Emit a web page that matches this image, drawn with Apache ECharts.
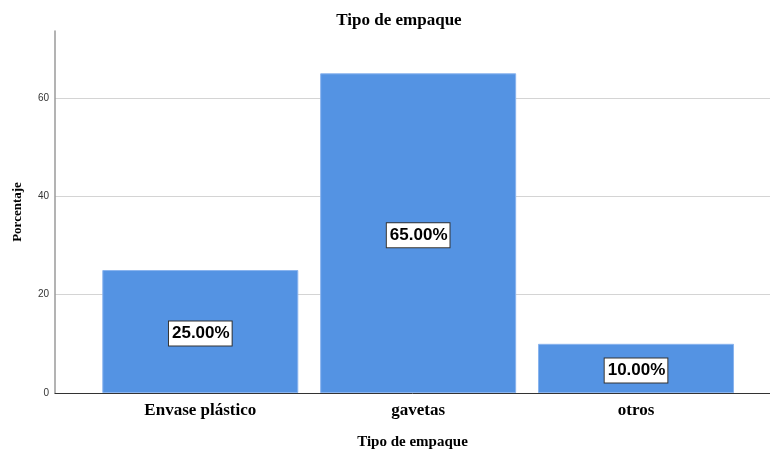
<!DOCTYPE html>
<html>
<head>
<meta charset="utf-8">
<script src="https://cdn.jsdelivr.net/npm/echarts@6/dist/echarts.min.js"></script>
<style>
  html, body { margin: 0; padding: 0; background: #fff; }
  #chart { width: 770px; height: 452px; }
</style>
</head>
<body>
<div id="chart"></div>
<script>
// Packaging type distribution (percent of respondents)
const categories = ['Envase plástico', 'gavetas', 'otros'];
const percentages = [25, 65, 10];
const yTicks = [0, 20, 40, 60];

const chart = echarts.init(document.getElementById('chart'));

// Bars sit at integer positions 0..n-1 on a numeric x scale so the
// plot can keep the wide left margin before the first bar.
const barData = percentages.map((v, i) => [i, v]);

chart.setOption({
  animation: false,
  title: {
    text: 'Tipo de empaque',
    left: 394,
    textAlign: 'center',
    top: 7,
    textStyle: { fontFamily: 'Liberation Serif', fontWeight: 'bold', fontSize: 17, color: '#000' }
  },
  grid: { left: 55, right: 0, top: 31, bottom: 59, containLabel: false, outerBoundsMode: 'none' },
  xAxis: {
    type: 'value',
    min: -0.667,
    max: 2.615,
    name: 'Tipo de empaque',
    nameLocation: 'middle',
    nameGap: 42,
    nameTextStyle: { fontFamily: 'Liberation Serif', fontWeight: 'bold', fontSize: 15, color: '#000' },
    axisLine: { show: true, onZero: false, lineStyle: { color: '#333', width: 1 } },
    axisTick: { show: false },
    splitLine: { show: false },
    axisLabel: {
      customValues: categories.map((c, i) => i),
      formatter: v => categories[Math.round(v)],
      margin: 9,
      fontFamily: 'Liberation Serif',
      fontWeight: 'bold',
      fontSize: 17,
      color: '#000'
    }
  },
  yAxis: {
    type: 'value',
    min: 0,
    max: 73.6,
    interval: 20,
    name: 'Porcentaje',
    nameLocation: 'middle',
    nameRotate: 90,
    nameGap: 31,
    nameTextStyle: { fontFamily: 'Liberation Serif', fontWeight: 'bold', fontSize: 13, color: '#000' },
    axisLine: { show: true, onZero: false, lineStyle: { color: '#9a9a9a', width: 1.5 } },
    axisTick: { show: false },
    axisLabel: {
      customValues: yTicks,
      margin: 6,
      fontFamily: 'Liberation Sans',
      fontSize: 10,
      color: '#333'
    },
    splitLine: { show: true, showMaxLine: false, lineStyle: { color: '#d4d4d4', width: 1 } }
  },
  series: [{
    type: 'bar',
    data: barData,
    barWidth: 196,
    itemStyle: { color: '#5493e3', borderColor: '#8ab4ee', borderWidth: 1 },
    label: {
      show: true,
      position: 'inside',
      offset: [0, 2],
      formatter: p => p.value[1].toFixed(2) + '%',
      fontFamily: 'Liberation Sans',
      fontWeight: 'bold',
      fontSize: 17,
      color: '#000',
      backgroundColor: '#fff',
      borderColor: '#333',
      borderWidth: 1,
      padding: [4, 2, 3, 3]
    },
    z: 3
  }]
});
</script>
</body>
</html>
